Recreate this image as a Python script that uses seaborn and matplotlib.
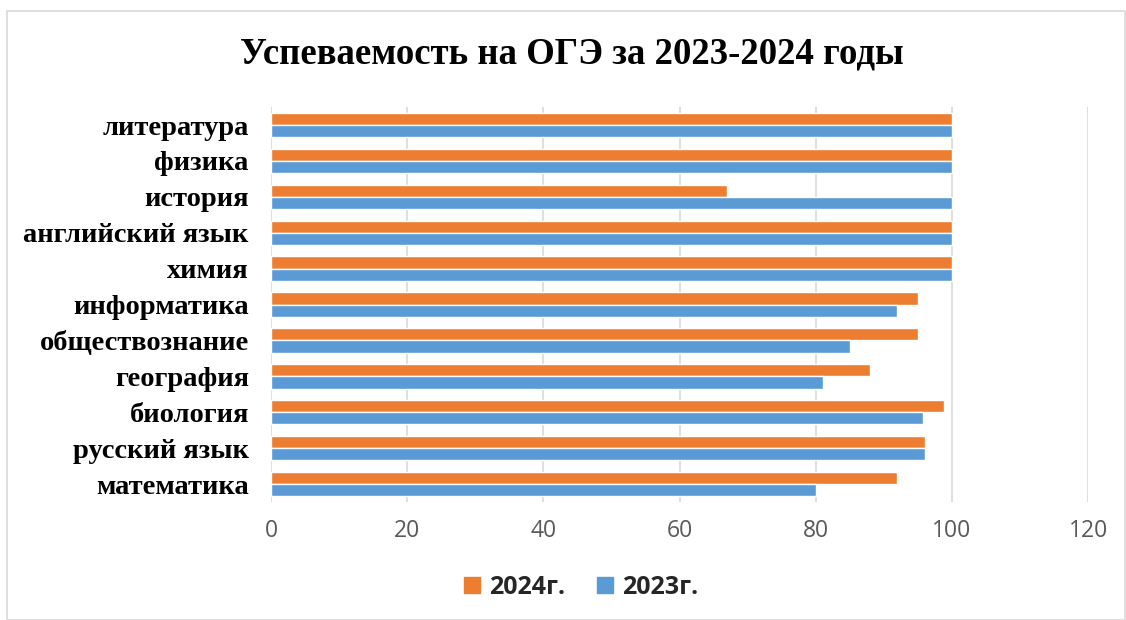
import pandas as pd
import seaborn as sns
import matplotlib.pyplot as plt
from matplotlib.patches import Rectangle

# Данные диаграммы (сверху вниз)
subjects = ["литература", "физика", "история", "английский язык", "химия",
            "информатика", "обществознание", "география", "биология",
            "русский язык", "математика"]
values_2024 = [100, 100, 67, 100, 100, 95, 95, 88, 98.8, 96, 92]
values_2023 = [100, 100, 100, 100, 100, 92, 85, 81, 95.7, 96, 80]
years = ["2024г.", "2023г."]
colors = ["#ED7D31", "#5B9BD5"]

df = pd.DataFrame({
    "предмет": subjects * 2,
    "процент": values_2024 + values_2023,
    "год": [years[0]] * len(subjects) + [years[1]] * len(subjects),
})

sns.set_style("white")
fig = plt.figure(figsize=(11.26, 6.2), dpi=100)
ax = fig.add_axes([0.2407, 0.1903, 0.7256, 0.637])

sns.barplot(data=df, x="процент", y="предмет", hue="год", order=subjects,
            hue_order=years, palette=colors, width=0.68, orient="h",
            saturation=1, ax=ax, legend=False)

ax.set_xlim(0, 120)
ax.set_xticks(range(0, 121, 20))
ax.set_ylim(len(subjects) - 0.5, -0.5)
ax.set_xlabel("")
ax.set_ylabel("")
ax.grid(axis="x", color="#d9d9d9", linewidth=1.2)
ax.set_axisbelow(True)
for s in ax.spines.values():
    s.set_visible(False)
ax.tick_params(axis="both", length=0)
ax.tick_params(axis="x", colors="#595959", labelsize=16.5, pad=12)
for lab in ax.get_xticklabels():
    lab.set_family("Open Sans")
for lab in ax.get_yticklabels():
    lab.set_family("Liberation Serif")
    lab.set_fontweight("bold")
    lab.set_fontsize(20.5)
    lab.set_color("black")
ax.tick_params(axis="y", pad=16)

fig.text(0.508, 0.913, "Успеваемость на ОГЭ за 2023-2024 годы",
         ha="center", va="center", fontsize=26.5, fontweight="bold",
         family="Liberation Serif", color="black")

handles = [Rectangle((0, 0), 1, 1, color=c) for c in colors]
fig.legend(handles, years, loc="center", bbox_to_anchor=(0.516, 0.053),
           ncol=2, frameon=False, handlelength=0.65, handleheight=0.65,
           handletextpad=0.35, columnspacing=1.3,
           prop={"family": "Open Sans", "weight": "bold", "size": 18})

fig.patches.append(Rectangle((0.006, 0.0), 0.993, 0.983, transform=fig.transFigure,
                             fill=False, edgecolor="#d9d9d9", linewidth=1.2))

fig.savefig("out.png", dpi=100)
